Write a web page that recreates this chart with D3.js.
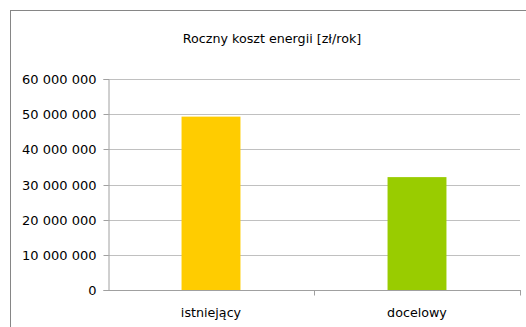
<!DOCTYPE html>
<html><head><meta charset="utf-8">
<script src="https://cdn.jsdelivr.net/npm/d3@7"></script>
<style>body{margin:0;background:#fff}svg{display:block}</style>
</head><body>
<script>
const categories = ["istniejący", "docelowy"];
const values = [49300000, 32100000];
const colors = ["#ffcc00", "#99cc00"];
const yTicks = [0, 10000000, 20000000, 30000000, 40000000, 50000000, 60000000];
const title = "Roczny koszt energii [zł/rok]";

(function () {
const W = 526, H = 327;
const svg = d3.select("body").append("svg").attr("width", W).attr("height", H);
svg.append("rect").attr("x", 10.5).attr("y", 10.5).attr("width", 530).attr("height", 330)
  .attr("fill", "#fff").attr("stroke", "#868686");

const pLeft = 108, pRight = 520, pTop = 79, pBottom = 290;
const x = d3.scaleBand().domain(categories).range([pLeft, pRight]).padding(0);
const y = d3.scaleLinear().domain([0, 60000000]).range([pBottom, pTop]);
const font = "DejaVu Sans, Verdana, sans-serif";

svg.append("text").attr("x", 272).attr("y", 43).attr("text-anchor", "middle")
  .attr("font-family", font).attr("font-size", 12.7).attr("fill", "#000").text(title);

svg.append("g").selectAll("line").data(yTicks.slice(1)).join("line")
  .attr("x1", pLeft).attr("x2", pRight)
  .attr("y1", d => Math.round(y(d)) + 0.5).attr("y2", d => Math.round(y(d)) + 0.5)
  .attr("stroke", "#c0c0c0");

const fmt = d => d3.format(",")(d).replace(/,/g, " ");
const yAxis = svg.append("g").attr("transform", `translate(${pLeft + 0.5},0)`)
  .call(d3.axisLeft(y).tickValues(yTicks).tickSize(5).tickPadding(7).tickFormat(fmt));
yAxis.select(".domain").attr("stroke", "#a0a0a0");
yAxis.selectAll(".tick line").attr("stroke", "#a0a0a0");
yAxis.selectAll(".tick text").attr("font-family", font).attr("font-size", 13).attr("fill", "#000");
yAxis.selectAll(".tick").attr("transform", d => `translate(0,${Math.round(y(d)) + 0.5})`);

const bw = x.bandwidth() * 0.286;
svg.append("g").selectAll("rect").data(values).join("rect")
  .attr("x", (d, i) => x(categories[i]) + x.bandwidth() / 2 - bw / 2)
  .attr("width", bw)
  .attr("y", d => y(d)).attr("height", d => pBottom - y(d))
  .attr("fill", (d, i) => colors[i]);

const xAxis = svg.append("g").attr("transform", `translate(0,${pBottom + 0.5})`);
xAxis.append("line").attr("x1", pLeft).attr("x2", pRight + 1).attr("stroke", "#a0a0a0");
const bounds = [pLeft + x.bandwidth(), pRight];
xAxis.selectAll(".tk").data(bounds).join("line").attr("class", "tk")
  .attr("x1", d => d + 0.5).attr("x2", d => d + 0.5).attr("y1", 0).attr("y2", 5).attr("stroke", "#a0a0a0");
xAxis.selectAll("text.cat").data(categories).join("text").attr("class", "cat")
  .attr("x", d => x(d) + x.bandwidth() / 2).attr("y", 26).attr("text-anchor", "middle")
  .attr("font-family", font).attr("font-size", 12.7).attr("fill", "#000").text(d => d);
})();
</script>
</body></html>
